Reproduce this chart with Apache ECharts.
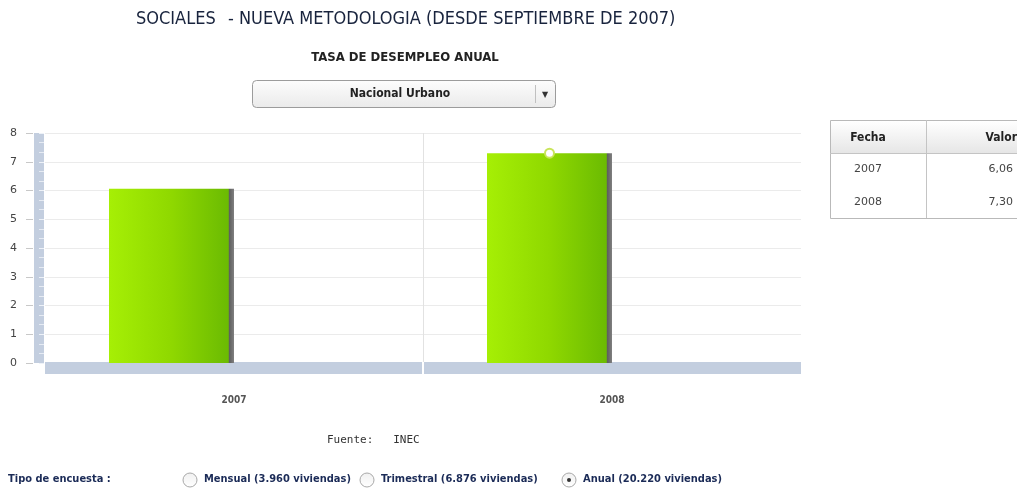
<!DOCTYPE html>
<html>
<head>
<meta charset="utf-8">
<script src="https://cdn.jsdelivr.net/npm/echarts@6/dist/echarts.min.js"></script>
<style>
  html, body { margin: 0; padding: 0; background: #ffffff; }
  #chart { width: 1017px; height: 491px; }
</style>
</head>
<body>
<div id="chart"></div>
<script>
// Tasa de desempleo anual, Nacional Urbano
const years = ['2007', '2008'];
const rates = [6.06, 7.30];
const yMin = 0;
const yMax = 8;
const yStep = 1;
const surveyTypes = ['Mensual (3.960 viviendas)', 'Trimestral (6.876 viviendas)', 'Anual (20.220 viviendas)'];
const selectedSurvey = 2;

const narrow = '"DejaVu Sans Condensed", "DejaVu Sans", sans-serif';
const wallColor = '#c3cedf';

const chart = echarts.init(document.getElementById('chart'), null, { renderer: 'canvas' });

// bar face: bright lime on the left fading to green, dark shaded edge on the right
const barFill = new echarts.graphic.LinearGradient(0, 0, 1, 0, [
  { offset: 0, color: '#a6ef05' },
  { offset: 0.5, color: '#8fd800' },
  { offset: 0.955, color: '#6bbb02' },
  { offset: 0.96, color: '#5c5c5c' },
  { offset: 1, color: '#808080' }
]);

// data table beside the plot
const tableLeft = 830, tableTop = 120, colSplit = 926, tableRight = 1030;
const headH = 33, rowH = 32.5, textCol = 868;
const tableGraphics = [
  { type: 'rect', shape: { x: tableLeft + 0.5, y: tableTop + 0.5, width: tableRight - tableLeft, height: headH + rowH * years.length },
    style: { fill: '#ffffff', stroke: '#b9b9b9', lineWidth: 1 } },
  { type: 'rect', shape: { x: tableLeft + 1, y: tableTop + 1, width: tableRight - tableLeft, height: headH - 1 },
    style: { fill: new echarts.graphic.LinearGradient(0, 0, 0, 1, [
      { offset: 0, color: '#ffffff' }, { offset: 1, color: '#e6e6e6' }]) } },
  { type: 'line', shape: { x1: tableLeft, y1: tableTop + headH + 0.5, x2: tableRight, y2: tableTop + headH + 0.5 },
    style: { stroke: '#c4c4c4', lineWidth: 1 } },
  { type: 'line', shape: { x1: colSplit + 0.5, y1: tableTop, x2: colSplit + 0.5, y2: tableTop + headH + rowH * years.length },
    style: { stroke: '#c4c4c4', lineWidth: 1 } },
  { type: 'text', x: textCol, y: tableTop + headH / 2 + 1,
    style: { text: 'Fecha', font: 'bold 12px ' + narrow, fill: '#222', align: 'center', verticalAlign: 'middle' } },
  { type: 'text', x: 1017, y: tableTop + headH / 2 + 1,
    style: { text: 'Valor', font: 'bold 12px ' + narrow, fill: '#222', align: 'right', verticalAlign: 'middle' } }
];
years.forEach(function (yr, i) {
  const cy = tableTop + headH + rowH * i + rowH / 2;
  tableGraphics.push(
    { type: 'text', x: textCol, y: cy,
      style: { text: yr, font: '11px "DejaVu Sans", sans-serif', fill: '#444', align: 'center', verticalAlign: 'middle' } },
    { type: 'text', x: 1013, y: cy,
      style: { text: rates[i].toFixed(2).replace('.', ','), font: '11px "DejaVu Sans", sans-serif', fill: '#444', align: 'right', verticalAlign: 'middle' } }
  );
});

// survey type selector at the bottom
const radioX = [190, 367, 569];
const surveyGraphics = [
  { type: 'text', x: 8, y: 479,
    style: { text: 'Tipo de encuesta :', font: 'bold 11px ' + narrow, fill: '#1b2b57', verticalAlign: 'middle' } }
];
surveyTypes.forEach(function (label, i) {
  surveyGraphics.push(
    { type: 'circle', shape: { cx: radioX[i], cy: 480, r: 7 },
      style: { fill: new echarts.graphic.LinearGradient(0, 0, 0, 1, [
        { offset: 0, color: '#f0f0f0' }, { offset: 1, color: '#ffffff' }]), stroke: '#a9a9a9', lineWidth: 1 } },
    { type: 'text', x: radioX[i] + 14, y: 479,
      style: { text: label, font: 'bold 11px ' + narrow, fill: '#1b2b57', verticalAlign: 'middle' } }
  );
  if (i === selectedSurvey) {
    surveyGraphics.push({ type: 'circle', shape: { cx: radioX[i], cy: 480, r: 2 }, style: { fill: '#333' } });
  }
});

const option = {
  backgroundColor: '#ffffff',
  animation: false,
  textStyle: { fontFamily: '"DejaVu Sans", sans-serif' },
  grid: { left: 45, right: 216, top: 133, bottom: 128, containLabel: false },
  xAxis: [
    {
      // category axis with the thick floor band
      type: 'category', data: years, offset: 5,
      axisLine: { show: true, onZero: false, lineStyle: { color: wallColor, width: 12, cap: 'butt' } },
      axisTick: { show: false },
      axisLabel: { margin: 27, fontSize: 10, fontWeight: 'bold', color: '#555', fontFamily: narrow },
      splitLine: { show: false }
    },
    {
      // helper axis for the divider between the two years
      type: 'value', min: 0, max: 2, interval: 1, offset: -1, position: 'bottom',
      axisLine: { show: false, onZero: false },
      axisTick: { show: true, customValues: [1], length: 12, lineStyle: { color: '#ffffff', width: 2 } },
      axisLabel: { show: false },
      splitLine: { show: true, lineStyle: { color: '#e2e2e2', width: 1 } }
    }
  ],
  yAxis: [
    {
      type: 'value', min: yMin, max: yMax, interval: yStep, offset: 6,
      axisLine: { show: true, onZero: false, lineStyle: { color: wallColor, width: 10, cap: 'butt' } },
      axisTick: { show: true, inside: true, length: 5, lineStyle: { color: '#eef2f8', width: 1 } },
      minorTick: { show: true, splitNumber: 3, length: 5, lineStyle: { color: '#e6ebf3', width: 1 } },
      axisLabel: { show: false },
      splitLine: { show: true, lineStyle: { color: '#ebebeb', width: 1 } }
    },
    {
      type: 'value', min: yMin, max: yMax, interval: yStep, position: 'left', offset: 12,
      axisLine: { show: false, onZero: false },
      axisTick: { show: true, length: 7, lineStyle: { color: '#c8c8c8', width: 1 } },
      axisLabel: { margin: 16, fontSize: 11, color: '#444' },
      splitLine: { show: false }
    }
  ],
  series: [
    {
      name: 'Tasa de desempleo', type: 'bar', data: rates, barWidth: 125, barGap: '0%',
      itemStyle: { color: barFill },
      markPoint: {
        symbol: 'circle', symbolSize: 9,
        data: [{ type: 'max' }],
        itemStyle: { color: '#ffffff', borderColor: '#c9e55a', borderWidth: 2 },
        label: { show: false }
      }
    },
    { name: 'vacio', type: 'bar', data: [null, null], barWidth: 125, silent: true }
  ],
  graphic: [
    { type: 'text', x: 136, y: 19,
      style: { text: 'SOCIALES', font: '18px ' + narrow, fill: '#18233d', verticalAlign: 'middle' } },
    { type: 'text', x: 228, y: 19,
      style: { text: '- NUEVA METODOLOGIA (DESDE SEPTIEMBRE DE 2007)', font: '18px ' + narrow, fill: '#18233d', verticalAlign: 'middle' } },
    { type: 'text', x: 405, y: 58,
      style: { text: 'TASA DE DESEMPLEO ANUAL', font: 'bold 13px ' + narrow, fill: '#222', align: 'center', verticalAlign: 'middle' } },
    // region dropdown
    { type: 'rect', shape: { x: 252.5, y: 80.5, width: 303, height: 27, r: 4 },
      style: { fill: new echarts.graphic.LinearGradient(0, 0, 0, 1, [
        { offset: 0, color: '#fdfdfd' }, { offset: 1, color: '#eaeaea' }]), stroke: '#9c9c9c', lineWidth: 1 } },
    { type: 'line', shape: { x1: 535.5, y1: 85, x2: 535.5, y2: 103 }, style: { stroke: '#c0c0c0', lineWidth: 1 } },
    { type: 'text', x: 400, y: 94,
      style: { text: 'Nacional Urbano', font: 'bold 12px ' + narrow, fill: '#222', align: 'center', verticalAlign: 'middle' } },
    { type: 'text', x: 545, y: 95,
      style: { text: '▼', font: '8px "DejaVu Sans", sans-serif', fill: '#333', align: 'center', verticalAlign: 'middle' } },
    { type: 'text', x: 327, y: 440,
      style: { text: 'Fuente:   INEC', font: '11px "DejaVu Sans Mono", monospace', fill: '#333', verticalAlign: 'middle' } }
  ].concat(tableGraphics, surveyGraphics)
};

chart.setOption(option);
</script>
</body>
</html>
